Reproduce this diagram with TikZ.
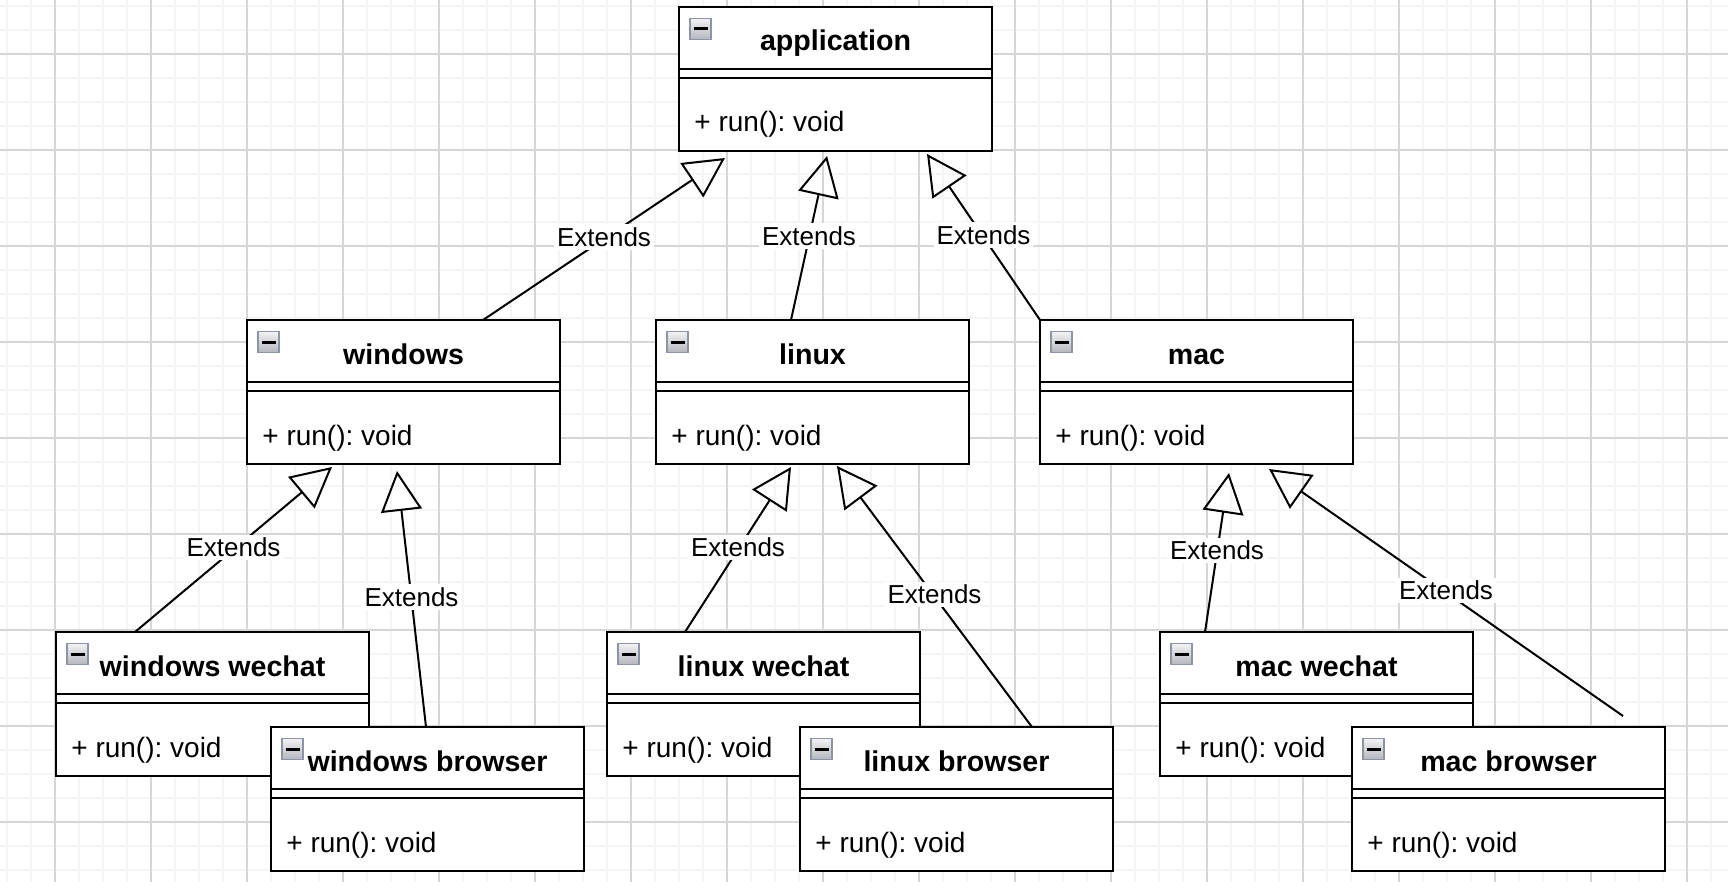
\documentclass[tikz,border=0pt]{standalone}
\usepackage{fontspec}
\setmainfont{Liberation Sans}
\frenchspacing
\usetikzlibrary{arrows.meta,calc,shadings}
\definecolor{gridminor}{HTML}{F5F5F5}
\definecolor{gridmajor}{HTML}{D6D6D6}
\definecolor{iconborder}{HTML}{8E94A6}
\definecolor{icontop}{HTML}{F2F2F4}
\definecolor{iconbot}{HTML}{B4B6BE}
\tikzset{
  classbox/.style={draw=black, fill=white, line width=1pt, minimum width=156.5pt,
    minimum height=72pt, anchor=north west, inner sep=0pt, outer sep=0pt},
  boxline/.style={draw=black, line width=1pt},
  classtitle/.style={font=\fontsize{14.3}{16}\selectfont\bfseries, inner sep=0pt, anchor=base},
  attr/.style={font=\fontsize{14}{16}\selectfont, anchor=base west, inner sep=0pt},
  icon/.style={draw=iconborder, line width=0.7pt, top color=icontop, bottom color=iconbot,
    minimum size=10.5pt, inner sep=0pt},
  minusbar/.style={draw=black, line width=1.5pt},
  ext/.style={draw=black, line width=1pt, -{Triangle[open, length=20pt, width=20.5pt]}},
  lbl/.style={fill=white, font=\fontsize{13}{15}\selectfont, inner sep=1.5pt},
  minorline/.style={draw=gridminor, line width=0.6pt},
  majorline/.style={draw=gridmajor, line width=0.6pt}
}
\newcommand{\umlclass}[4]{%
  \node[classbox] (#1) at (#2,#3) {};
  \draw[boxline] ($(#1.north west)+(0,62)$) -- ($(#1.north east)+(0,62)$);
  \draw[boxline] ($(#1.north west)+(0,71)$) -- ($(#1.north east)+(0,71)$);
  \node[icon] (#1-i) at ($(#1.north west)+(21.5,22)$) {};
  \draw[minusbar] ($(#1-i.center)+(-7,0)$) -- ($(#1-i.center)+(7,0)$);
  \node[classtitle] (#1-t) at ($(#1.north)+(0,44)$) {#4};
  \node[attr] (#1-a) at ($(#1.north west)+(15,125)$) {+ run(): void};
}
\begin{document}
\begin{tikzpicture}[x=0.5pt, y=-0.5pt]
\useasboundingbox (0,0) rectangle (1728,882);
\fill[white] (0,0) rectangle (1728,882);
% grid
\foreach \x in {7,31,...,1728} \draw[minorline] (\x,0) -- (\x,882);
\foreach \y in {6,30,...,882} \draw[minorline] (0,\y) -- (1728,\y);
\foreach \x in {55,151,...,1728} \draw[majorline] (\x,0) -- (\x,882);
\foreach \y in {54,150,...,882} \draw[majorline] (0,\y) -- (1728,\y);

% classes
\umlclass{app}{679}{7}{application}
\umlclass{windows}{247}{320}{windows}
\umlclass{linux}{656}{320}{linux}
\umlclass{mac}{1040}{320}{mac}
\umlclass{winwechat}{56}{632}{windows wechat}
\umlclass{linwechat}{607}{632}{linux wechat}
\umlclass{macwechat}{1160}{632}{mac wechat}
\umlclass{winbrowser}{271}{727}{windows browser}
\umlclass{linbrowser}{800}{727}{linux browser}
\umlclass{macbrowser}{1352}{727}{mac browser}

% connector end points
\coordinate (s1) at ($(windows.north west)+(236,0)$);
\coordinate (t1) at ($(app.south west)+(46,7)$);
\coordinate (s2) at ($(linux.north west)+(135,0)$);
\coordinate (t2) at ($(app.south west)+(148,5)$);
\coordinate (s3) at ($(mac.north west)+(0,0)$);
\coordinate (t3) at ($(app.south west)+(248,3)$);
\coordinate (s4) at ($(winwechat.north west)+(79,0)$);
\coordinate (t4) at ($(windows.south west)+(85,3)$);
\coordinate (s5) at ($(winbrowser.north west)+(155,0)$);
\coordinate (t5) at ($(windows.south west)+(150,7)$);
\coordinate (s6) at ($(linwechat.north west)+(78,0)$);
\coordinate (t6) at ($(linux.south west)+(135,3)$);
\coordinate (s7) at ($(linbrowser.north west)+(232,0)$);
\coordinate (t7) at ($(linux.south west)+(181,2)$);
\coordinate (s8) at ($(macwechat.north west)+(45,0)$);
\coordinate (t8) at ($(mac.south west)+(189,9)$);
\coordinate (s9) at ($(macbrowser.north west)+(271,-11)$);
\coordinate (t9) at ($(mac.south west)+(229,5)$);

% connectors
\foreach \i in {1,...,9}
  \draw[ext] (s\i) -- node[lbl, yshift=1pt] (l\i) {Extends} (t\i);
\end{tikzpicture}
\end{document}
